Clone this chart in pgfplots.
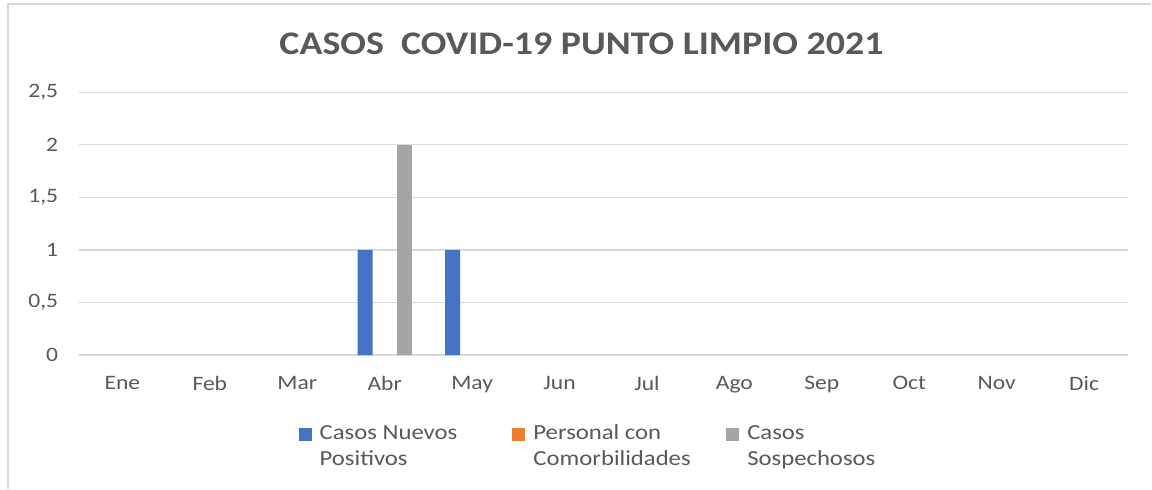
\documentclass[border=0pt]{standalone}
\usepackage{fontspec}
\setmainfont[FakeStretch=1.15]{Carlito}
\usepackage{pgfplots}
\pgfplotsset{compat=1.18}
\definecolor{cblue}{HTML}{4472C4}
\definecolor{corange}{HTML}{ED7D31}
\definecolor{cgray}{HTML}{A5A5A5}
\definecolor{ctext}{HTML}{595959}
\definecolor{cgrid}{HTML}{D9D9D9}
\begin{document}
\begin{tikzpicture}[x=1pt,y=1pt]
\path[fill=white] (0,0) rectangle (1152,489);
\draw[cgrid,line width=2pt] (8,0) -- (8,485) -- (1152,485);
\node[font=\fontsize{33}{38}\bfseries\selectfont,text=ctext] at (582,445) {CASOS\ \ COVID-19 PUNTO LIMPIO 2021};
\begin{axis}[
    at={(90,127)}, anchor=south west,
    scale only axis,
    width=1050pt, height=263pt,
    xmin=-0.5, xmax=11.5,
    ymin=0, ymax=2.5,
    ytick={0,0.5,1,1.5,2,2.5},
    xtick={0,...,11},
    xticklabels={Ene,Feb,Mar,Abr,May,Jun,Jul,Ago,Sep,Oct,Nov,Dic},
    /pgf/number format/use comma,
    /pgf/number format/assume math mode=true,
    axis line style={draw=none},
    major tick length=0pt,
    ymajorgrids, grid style={cgrid,line width=1.2pt},
    tick label style={font=\fontsize{20.5}{24}\selectfont,text=ctext},
    yticklabel style={xshift=-17pt},
    xticklabel style={yshift=-18pt},
    ybar, bar width=0.171,
    y filter/.expression={y==0 ? nan : y},
    unbounded coords=discard,
    clip=false,
    legend columns=3,
    legend style={at={(0.2095,-0.244)}, anchor=north west, draw=none, fill=none,
        inner sep=0pt,
        font=\fontsize{21.5}{26}\selectfont, text=ctext,
        cells={anchor=base west},
        /tikz/every odd column/.append style={column sep=6pt}},
    legend image code/.code={\fill[#1,draw=none] (0pt,-1pt) rectangle (13pt,12pt);},
]
% Casos Nuevos Positivos
\addplot[fill=cblue, draw=none, bar shift=-0.223] coordinates {
    (0,0) (1,0) (2,0) (3,1) (4,1) (5,0) (6,0) (7,0) (8,0) (9,0) (10,0) (11,0)};
\addlegendentry{\begin{tabular}[t]{@{}p{191pt}@{}}Casos Nuevos\\Positivos\end{tabular}}
% Personal con Comorbilidades (all zero)
\addlegendimage{fill=corange, draw=none}
\addlegendentry{\begin{tabular}[t]{@{}p{191pt}@{}}Personal con\\Comorbilidades\end{tabular}}
\addplot[forget plot, fill=corange, draw=none, bar shift=0] coordinates {
    (0,0) (1,0) (2,0) (3,0) (4,0) (5,0) (6,0) (7,0) (8,0) (9,0) (10,0) (11,0)};
% Casos Sospechosos
\addplot[fill=cgray, draw=none, bar shift=0.223] coordinates {
    (0,0) (1,0) (2,0) (3,2) (4,0) (5,0) (6,0) (7,0) (8,0) (9,0) (10,0) (11,0)};
\addlegendentry{\begin{tabular}[t]{@{}p{130pt}@{}}Casos\\Sospechosos\end{tabular}}
\end{axis}
\end{tikzpicture}
\end{document}
